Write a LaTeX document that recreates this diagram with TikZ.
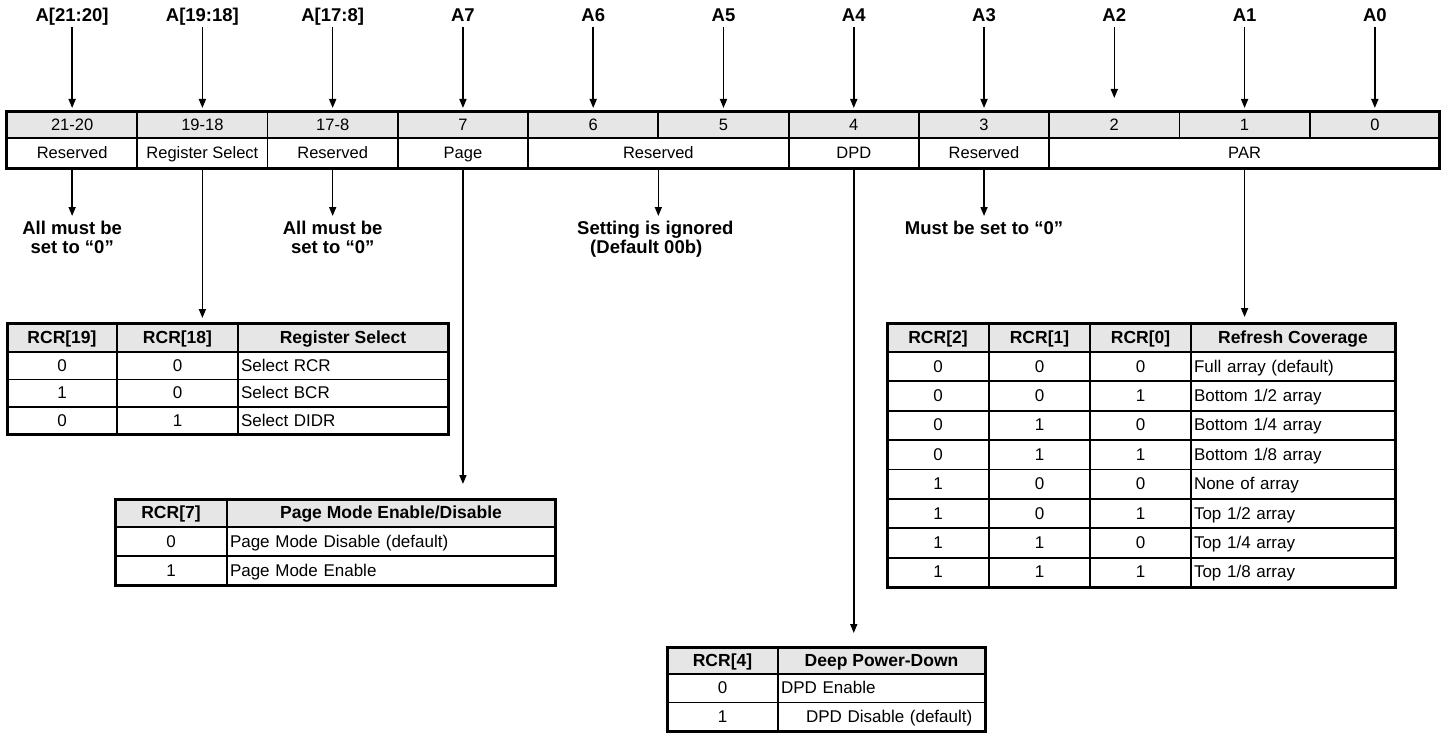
\documentclass[tikz,border=0pt]{standalone}
\usepackage{fontspec}
\setmainfont{Liberation Sans}
\usepackage{tikz}
\usetikzlibrary{arrows.meta,positioning,calc}
\definecolor{HeadGray}{HTML}{E6E6E6}

\begin{document}
\begin{tikzpicture}[x=1pt,y=-1pt,
    cell/.style={draw,line width=1.8pt,inner sep=0pt,outer sep=0pt,text height=12pt,text depth=1pt},
    bit/.style={cell,fill=HeadGray,minimum width=130.27pt,minimum height=26pt,font=\fontsize{16.5}{18}\selectfont},
    fld/.style={cell,minimum height=30pt,font=\fontsize{16.5}{18}\selectfont},
    hd/.style={cell,fill=HeadGray,font=\fontsize{17.5}{20}\selectfont\bfseries},
    td/.style={cell,font=\fontsize{17}{20}\selectfont},
    tdl/.style={td,align=left,inner xsep=3pt,text width=#1},
    frame/.style={draw,line width=3pt},
    lbl/.style={font=\fontsize{18.5}{20}\selectfont\bfseries,inner sep=1pt,text height=13.5pt,text depth=0pt},
    note/.style={font=\fontsize{18.5}{19}\selectfont\bfseries,align=center,inner sep=0pt},
    arr/.style={-{Triangle[length=9pt,width=7pt]},line width=1.6pt}]
    \useasboundingbox (0,0) rectangle (1447,733);

    % register: bit numbers and fields
    \foreach \t [count=\i from 0] in {21-20,19-18,17-8,7,6,5,4,3,2,1,0}
      \node[bit] (r\i) at (72.13+130.27*\i,125) {\t};
    \foreach \s/\n/\t [count=\k from 0] in {0/1/Reserved,1/1/Register Select,2/1/Reserved,3/1/Page,4/2/Reserved,6/1/DPD,7/1/Reserved,8/3/PAR}
      \node[fld,minimum width=\n*130.27pt] (f\k) at (7+130.27*\s+65.135*\n,153) {\t};
    \draw[frame] (r0.north west) rectangle (f7.south east);

    % address inputs
    \coordinate (top) at (0,15);
    \foreach \t [count=\i from 0] in {{A[21:20]},{A[19:18]},{A[17:8]},A7,A6,A5,A4,A3,A2,A1,A0}
      \node[lbl] (a\i) at (r\i |- top) {\t};
    \foreach \i in {0,...,7,9,10}
      \draw[arr,shorten <=4pt,shorten >=4pt] (a\i) -- (r\i.north);
    \draw[arr,shorten <=4pt,shorten >=14pt] (a8) -- (r8.north);

    % notes under reserved fields
    \coordinate (low) at (0,221);
    \node[note,anchor=north] (n0) at (f0.south |- low) {All must be\\set to “0”};
    \node[note,anchor=north] (n2) at (f2.south |- low) {All must be\\set to “0”};
    \node[note,anchor=north,align=left,xshift=-3pt] (n4) at (f4.south |- low) {Setting is ignored\\\hspace*{13pt}(Default 00b)};
    \node[note,anchor=north] (n6) at (f6.south |- low) {Must be set to “0”};
    \foreach \k in {0,2,6}
      \draw[arr,shorten >=5pt] (f\k.south) -- (n\k.north);
    \draw[arr,shorten >=5pt] (f4.south) -- (f4.south |- n4.north);

    % register select table
    \node[hd,minimum width=110pt,minimum height=29pt] (rsh1) at (62,337.5) {RCR[19]};
    \node[hd,minimum width=121pt,minimum height=29pt] (rsh2) at (177.5,337.5) {RCR[18]};
    \node[hd,minimum width=210pt,minimum height=29pt] (rsh3) at (343,337.5) {Register Select};
    \foreach \a/\b/\t [count=\r] in {0/0/Select RCR,1/0/Select BCR,0/1/Select DIDR} {
      \node[td,minimum width=110pt,minimum height=27.5pt] (rsa\r) at (62,338.25+27.5*\r) {\a};
      \node[td,minimum width=121pt,minimum height=27.5pt] (rsb\r) at (177.5,338.25+27.5*\r) {\b};
      \node[tdl=204pt,minimum height=27.5pt] (rsc\r) at (343,338.25+27.5*\r) {\t};
    }
    \draw[frame] (rsh1.north west) rectangle (rsc3.south east);

    % page mode table
    \node[hd,minimum width=112pt,minimum height=28pt] (pgh1) at (171,513) {RCR[7]};
    \node[hd,minimum width=328pt,minimum height=28pt] (pgh2) at (391,513) {Page Mode Enable/Disable};
    \foreach \a/\t [count=\r] in {0/Page Mode Disable (default),1/Page Mode Enable} {
      \node[td,minimum width=112pt,minimum height=29pt] (pga\r) at (171,512.5+29*\r) {\a};
      \node[tdl=322pt,minimum height=29pt] (pgb\r) at (391,512.5+29*\r) {\t};
    }
    \draw[frame] (pgh1.north west) rectangle (pgb2.south east);

    % refresh coverage table
    \node[hd,minimum width=102pt,minimum height=29pt] (rfh1) at (938,337.5) {RCR[2]};
    \node[hd,minimum width=101pt,minimum height=29pt] (rfh2) at (1039.5,337.5) {RCR[1]};
    \node[hd,minimum width=101pt,minimum height=29pt] (rfh3) at (1140.5,337.5) {RCR[0]};
    \node[hd,minimum width=204pt,minimum height=29pt] (rfh4) at (1293,337.5) {Refresh Coverage};
    \foreach \a/\b/\c/\t [count=\r] in {0/0/0/Full array (default),0/0/1/Bottom {1/2} array,0/1/0/Bottom {1/4} array,0/1/1/Bottom {1/8} array,1/0/0/None of array,1/0/1/Top {1/2} array,1/1/0/Top {1/4} array,1/1/1/Top {1/8} array} {
      \node[td,minimum width=102pt,minimum height=29.375pt] (rfa\r) at (938,337.3125+29.375*\r) {\a};
      \node[td,minimum width=101pt,minimum height=29.375pt] (rfb\r) at (1039.5,337.3125+29.375*\r) {\b};
      \node[td,minimum width=101pt,minimum height=29.375pt] (rfc\r) at (1140.5,337.3125+29.375*\r) {\c};
      \node[tdl=198pt,minimum height=29.375pt] (rfd\r) at (1293,337.3125+29.375*\r) {\t};
    }
    \draw[frame] (rfh1.north west) rectangle (rfd8.south east);

    % deep power-down table
    \node[hd,minimum width=111pt,minimum height=27pt] (dph1) at (722.5,660.5) {RCR[4]};
    \node[hd,minimum width=207pt,minimum height=27pt] (dph2) at (881.5,660.5) {Deep Power-Down};
    \foreach \a/\t [count=\r] in {0/DPD Enable,1/\hspace*{25pt}DPD Disable (default)} {
      \node[td,minimum width=111pt,minimum height=28.5pt] (dpa\r) at (722.5,659.75+28.5*\r) {\a};
      \node[tdl=201pt,minimum height=28.5pt] (dpb\r) at (881.5,659.75+28.5*\r) {\t};
    }
    \draw[frame] (dph1.north west) rectangle (dpb2.south east);

    % field to table arrows
    \draw[arr,shorten >=5pt] (f1.south) -- (f1.south |- rsh1.north);
    \draw[arr,shorten >=15pt] (f3.south) -- (f3.south |- pgh1.north);
    \draw[arr,shorten >=14pt] (f5.south) -- (f5.south |- dph1.north);
    \draw[arr,shorten >=6pt] (f7.south) -- (f7.south |- rfh1.north);
  \end{tikzpicture}
\end{document}
